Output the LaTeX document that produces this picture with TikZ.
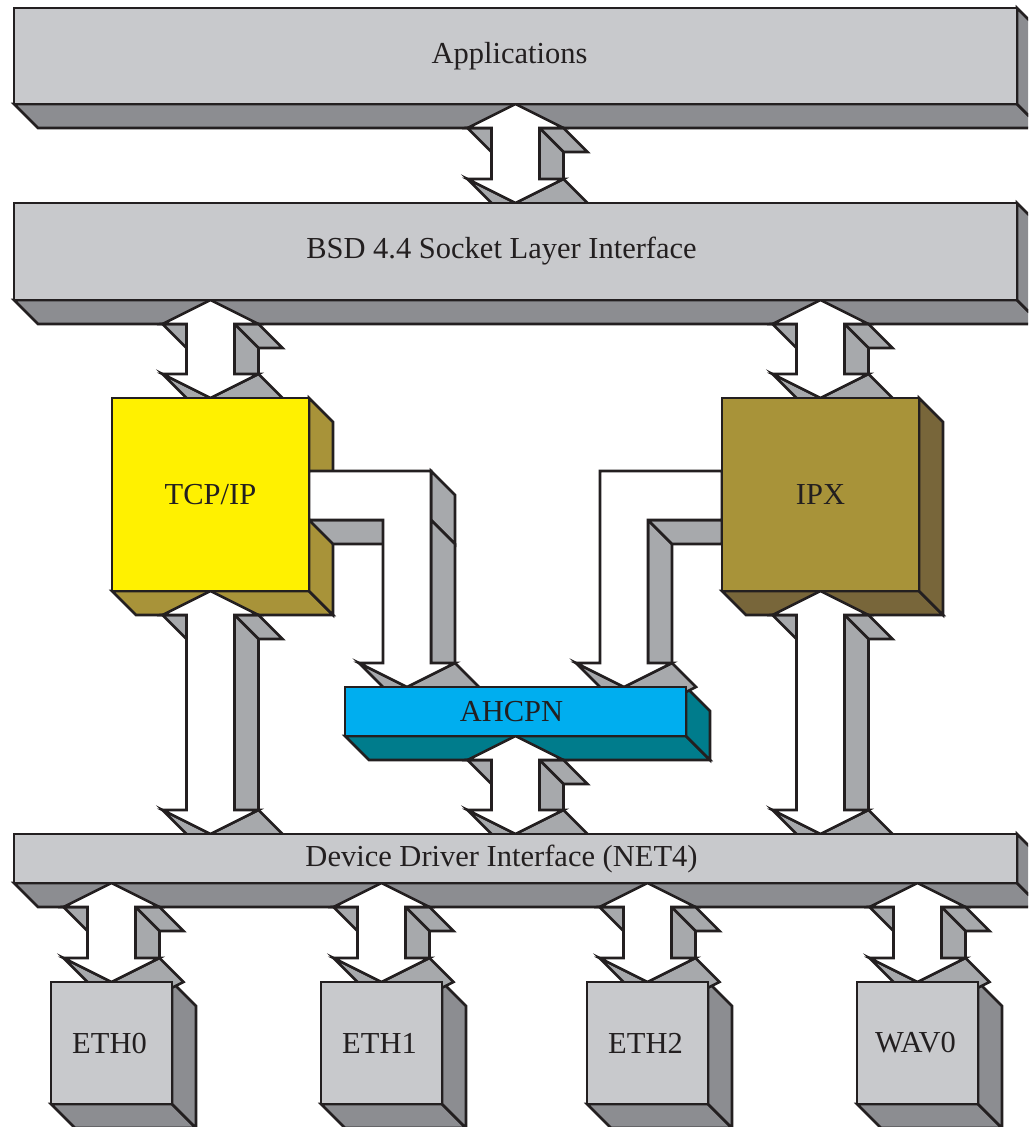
\documentclass[tikz,border=0pt]{standalone}
\usepackage{fontspec}
\setmainfont{Liberation Serif}
\usetikzlibrary{calc,positioning}
\definecolor{Ink}{HTML}{231F20}
\definecolor{PanelGray}{HTML}{C8C9CC}
\definecolor{ShadeGray}{HTML}{8C8D91}
\definecolor{PipeGray}{HTML}{A7A9AC}
\definecolor{StackYellow}{HTML}{FFF100}
\definecolor{Olive}{HTML}{A89339}
\definecolor{DeepOlive}{HTML}{78663A}
\definecolor{LinkCyan}{HTML}{00AEEF}
\definecolor{LinkTeal}{HTML}{007C8C}
\pgfdeclarelayer{back}
\pgfdeclarelayer{front}
\pgfsetlayers{back,main,front}

\begin{document}
\begin{tikzpicture}[x=1pt,y=1pt,
    ink/.style={draw=Ink,line width=2.6pt},
    every node/.style={font=\fontsize{30.5}{36}\selectfont,text=Ink},
    blk/.style={ink,outer sep=0pt,inner sep=0pt,anchor=north west},
    bar/.style={blk,fill=PanelGray,minimum width=1003pt},
    cube/.style={blk,minimum width=197pt,minimum height=193pt},
    port/.style={blk,fill=PanelGray,minimum width=121pt,minimum height=122pt},
    side/.style={ink,fill=PipeGray},
    face/.style={ink,fill=white},
    pics/slab/.style 2 args={code={
      \path[ink,fill=#2] (#1.south west) -- (#1.south east) -- ++(24,-24)
        -- ($(#1.south west)+(24,-24)$) -- cycle;
      \path[ink,fill=#2] (#1.north east) -- ++(24,-24)
        -- ($(#1.south east)+(24,-24)$) -- (#1.south east) -- cycle;}},
    pics/updown/.style 2 args={code={
      \coordinate (t) at (#1);
      \coordinate (b) at (#2);
      \path[side] (t) ++(-24,-24) -- ++(-24,0) -- ++(24,-24) -- ++(24,0) -- cycle;
      \path[side] (t) ++(24,-24) -- ++(24,0) -- ++(24,-24) -- ++(-24,0) -- cycle;
      \path[side] ($(t)+(24,-24)$) -- ($(b)+(24,24)$) -- ++(24,-24)
        -- ($(t)+(48,-48)$) -- cycle;
      \path[side] (b) ++(48,24) -- (b) -- ++(24,-24) -- ++(48,24) -- cycle;
      \path[side] (b) -- ++(-48,24) -- ++(24,-24) -- ++(48,-24) -- cycle;
      \path[face] (t) -- ++(48,-24) -- ++(-24,0) -- ($(b)+(24,24)$) -- ++(24,0)
        -- (b) -- ++(-48,24) -- ++(24,0) -- ($(t)+(-24,-24)$) -- ++(-24,0) -- cycle;}}]
  \path[use as bounding box] (0,0) rectangle (1028,-1127);

  % front faces
  \begin{pgfonlayer}{front}
    \node[bar,minimum height=96pt] (apps) at (14,-8) {Applications\hspace*{12pt}};
    \node[bar,minimum height=97pt,below=99pt of apps] (bsd) {BSD 4.4 Socket Layer Interface\hspace*{28pt}};
    \node[cube,fill=StackYellow] (tcp) at (112,-398) {TCP/IP};
    \node[cube,fill=Olive] (ipx) at (722,-398) {IPX};
    \node[blk,fill=LinkCyan,minimum width=341pt,minimum height=49pt] (ahcpn) at (345,-687) {AHCPN\hspace*{8pt}};
    \node[bar,minimum height=49pt,below=534pt of bsd] (dev) {Device Driver Interface (NET4)\hspace*{28pt}};
    \foreach \x/\n/\t in {51/eth0/ETH0,321/eth1/ETH1,587/eth2/ETH2,857/wav0/WAV0}
      \node[port] (\n) at (\x,-982) {\t\hspace*{4pt}};
  \end{pgfonlayer}

  % depth of the blocks
  \begin{pgfonlayer}{back}
    \clip (0,0) rectangle (1028,-1127);
    \foreach \n/\c in {apps/ShadeGray,bsd/ShadeGray,tcp/Olive,ipx/DeepOlive,ahcpn/LinkTeal,
        dev/ShadeGray,eth0/ShadeGray,eth1/ShadeGray,eth2/ShadeGray,wav0/ShadeGray}
      \pic {slab={\n}{\c}};
  \end{pgfonlayer}

  % two-way pipes
  \pic {updown={apps.south}{bsd.north}};
  \pic {updown={bsd.south -| tcp.north}{tcp.north}};
  \pic {updown={bsd.south -| ipx.north}{ipx.north}};
  \pic {updown={tcp.south}{dev.north -| tcp.south}};
  \pic {updown={ipx.south}{dev.north -| ipx.south}};
  \pic {updown={ahcpn.south}{dev.north -| ahcpn.south}};
  \foreach \n in {eth0,eth1,eth2,wav0}
    \pic {updown={dev.south -| \n.north}{\n.north}};

  % bent pipes into AHCPN
  \coordinate (ltip) at ([xshift=62pt]ahcpn.north west);
  \coordinate (rtip) at ([xshift=279pt]ahcpn.north west);
  \begin{scope}[shift={(ltip)}]
    \path[side] (24,216) -- (48,192) -- (48,143) -- (24,167) -- cycle;
    \path[side] (24,167) -- (48,143) -- (48,0) -- (24,24) -- cycle;
    \path[side] (-98,167) -- (-24,167) -- (0,143) -- (-74,143) -- cycle;
    \path[side] (48,24) -- (0,0) -- (24,-24) -- (72,0) -- cycle;
    \path[side] (0,0) -- (-48,24) -- (-24,0) -- (24,-24) -- cycle;
    \path[face] (0,0) -- (-48,24) -- (-24,24) -- (-24,167) -- (-98,167) -- (-98,216)
      -- (24,216) -- (24,24) -- (48,24) -- cycle;
  \end{scope}
  \begin{scope}[shift={(rtip)}]
    \path[side] (24,167) -- (48,143) -- (48,0) -- (24,24) -- cycle;
    \path[side] (24,167) -- (98,167) -- (98,143) -- (48,143) -- cycle;
    \path[side] (0,0) -- (-48,24) -- (-24,0) -- (24,-24) -- cycle;
    \path[side] (48,24) -- (0,0) -- (24,-24) -- (72,0) -- cycle;
    \path[face] (0,0) -- (48,24) -- (24,24) -- (24,167) -- (98,167) -- (98,216)
      -- (-24,216) -- (-24,24) -- (-48,24) -- cycle;
  \end{scope}
\end{tikzpicture}
\end{document}
